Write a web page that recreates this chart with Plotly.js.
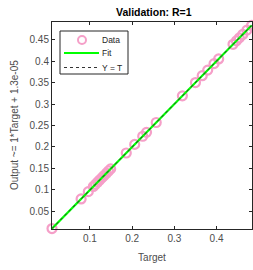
<!DOCTYPE html>
<html>
<head>
<meta charset="utf-8">
<script src="https://cdn.plot.ly/plotly-3.0.1.min.js"></script>
<style>html,body{margin:0;padding:0;background:#fff;}#chart{width:253px;height:270px;}</style>
</head>
<body>
<div id="chart"></div>
<script>
// Data
const targets = [0.010, 0.079, 0.096, 0.108, 0.113, 0.118, 0.123, 0.128, 0.133, 0.139, 0.144, 0.149, 0.186, 0.206, 0.225, 0.234, 0.257, 0.319, 0.350, 0.366, 0.379, 0.394, 0.405, 0.439, 0.447, 0.454, 0.462, 0.472, 0.483];
const outputs = [0.010, 0.079, 0.096, 0.108, 0.113, 0.118, 0.123, 0.128, 0.133, 0.139, 0.144, 0.149, 0.186, 0.206, 0.225, 0.234, 0.257, 0.319, 0.350, 0.366, 0.379, 0.394, 0.405, 0.439, 0.447, 0.454, 0.462, 0.472, 0.483];
const fitSlope = 1;
const fitIntercept = 1.3e-05;
const xTicks = [0.1, 0.2, 0.3, 0.4];
const yTicks = [0.05, 0.1, 0.15, 0.2, 0.25, 0.3, 0.35, 0.4, 0.45];
const legendLabels = ['Data', 'Fit', 'Y = T'];
const titleText = 'Validation: R=1';
const xTitle = 'Target';
const yTitle = 'Output ~= 1*Target + 1.3e-05';

const tMin = Math.min(...targets), tMax = Math.max(...targets);
const lineX = [tMin, tMax];
const fitY = lineX.map(v => fitSlope * v + fitIntercept);

const font = 'Liberation Sans, Arial, sans-serif';
const axisCol = '#262626';
const labelCol = '#4d4d4d';
const pink = '#f59fc8';
const green = '#00ff00';

const traces = [
  {x: targets, y: outputs, mode: 'markers', type: 'scatter', name: legendLabels[0], cliponaxis: false,
   marker: {symbol: 'circle-open', size: 9, color: pink, line: {width: 2.2, color: pink}}},
  {x: lineX, y: fitY, mode: 'lines', type: 'scatter', name: legendLabels[1],
   line: {color: green, width: 2.2}},
  {x: lineX, y: lineX, mode: 'lines', type: 'scatter', name: legendLabels[2],
   line: {color: '#333333', width: 1, dash: 'dot'}}
];

// plot area: 200 x 207 px; helpers convert pixel offsets to paper coords
const W = 200, H = 207, L = 52, T = 22;
const px = v => (v - L) / W;
const py = v => (T + H - v) / H;

const legendShapes = [
  {type: 'rect', xref: 'paper', yref: 'paper', x0: px(60), x1: px(128), y0: py(74), y1: py(31),
   fillcolor: '#ffffff', line: {color: axisCol, width: 1}, layer: 'above'},
  {type: 'circle', xref: 'paper', yref: 'paper', xsizemode: 'pixel', ysizemode: 'pixel',
   xanchor: px(82), yanchor: py(40), x0: -4, x1: 4, y0: -4, y1: 4,
   line: {color: pink, width: 2}, layer: 'above'},
  {type: 'line', xref: 'paper', yref: 'paper', x0: px(64), x1: px(99), y0: py(53), y1: py(53),
   line: {color: green, width: 2.2}, layer: 'above'},
  {type: 'line', xref: 'paper', yref: 'paper', x0: px(64), x1: px(99), y0: py(67.5), y1: py(67.5),
   line: {color: '#333333', width: 1, dash: 'dot'}, layer: 'above'}
];
const legendRowsY = [40, 53, 67.5];
const legendAnn = legendLabels.map((t, i) => ({
  text: t, xref: 'paper', yref: 'paper', x: px(100), y: py(legendRowsY[i]), xanchor: 'left', yanchor: 'middle',
  showarrow: false, font: {size: 8.5, color: axisCol, family: font}
}));

const layout = {
  width: 253, height: 270,
  margin: {l: L, r: 253 - L - W, t: T, b: 270 - T - H},
  paper_bgcolor: '#fff', plot_bgcolor: '#fff',
  font: {family: font, size: 10, color: axisCol},
  showlegend: false,
  shapes: legendShapes,
  annotations: [
    {text: '<b>' + titleText + '</b>', xref: 'paper', yref: 'paper', x: px(154), y: py(12),
     xanchor: 'center', yanchor: 'middle', showarrow: false, font: {size: 10.5, color: '#000', family: font}},
    {text: yTitle, xref: 'paper', yref: 'paper', x: px(14), y: py(125), textangle: -90,
     xanchor: 'center', yanchor: 'middle', showarrow: false, font: {size: 10, color: labelCol, family: font}}
  ].concat(legendAnn),
  xaxis: {range: [tMin, 0.484], tickvals: xTicks, ticktext: xTicks.map(String), ticks: 'inside', ticklen: 3, tickcolor: axisCol,
          showline: true, linecolor: axisCol, linewidth: 1, mirror: 'ticks', showgrid: false, zeroline: false,
          tickfont: {size: 10, color: labelCol},
          title: {text: xTitle, font: {size: 10, color: labelCol}, standoff: 10}},
  yaxis: {range: [0.009, 0.491], tickvals: yTicks, ticktext: yTicks.map(String), ticks: 'inside', ticklen: 3, tickcolor: axisCol,
          showline: true, linecolor: axisCol, linewidth: 1, mirror: 'ticks', showgrid: false, zeroline: false,
          tickfont: {size: 10, color: labelCol}}
};

Plotly.newPlot('chart', traces, layout, {displayModeBar: false, staticPlot: true});
</script>
</body>
</html>
